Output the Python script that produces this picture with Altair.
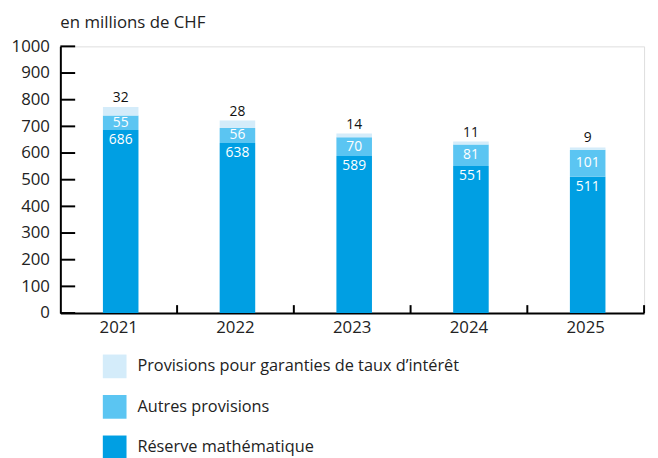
import altair as alt
import pandas as pd

years = ["2021", "2022", "2023", "2024", "2025"]
reserve = [686, 638, 589, 551, 511]
autres = [55, 56, 70, 81, 101]
garanties = [32, 28, 14, 11, 9]

series_names = [
    "Provisions pour garanties de taux d’intérêt",
    "Autres provisions",
    "Réserve mathématique",
]
colors = ["#d4ecfa", "#5bc5f2", "#009fe3"]
y_ticks = [0, 100, 200, 300, 400, 500, 600, 700, 800, 900, 1000]
title_text = "en millions de CHF"

rows = []
lab = []
for i, yr in enumerate(years):
    b1 = reserve[i]
    b2 = b1 + autres[i]
    b3 = b2 + garanties[i]
    rows.append(dict(year=yr, series=series_names[2], y0=0, y1=b1))
    rows.append(dict(year=yr, series=series_names[1], y0=b1, y1=b2))
    rows.append(dict(year=yr, series=series_names[0], y0=b2, y1=b3))
    lab.append(dict(year=yr, r=b1, rt=str(reserve[i]), a=(b1 + b2) / 2,
                    at=str(autres[i]), g=b3, gt=str(garanties[i])))
df = pd.DataFrame(rows)
dl = pd.DataFrame(lab)

TXT = "#222222"
FONT = "Open Sans"

x_scale = alt.Scale(paddingInner=0, paddingOuter=0)
x_axis = alt.Axis(title=None, labelAngle=0, ticks=False, labelPadding=7,
                  labelFontSize=17, labelColor=TXT, domainColor="black",
                  domainWidth=2, grid=False)
y_scale = alt.Scale(domain=[0, 1000], nice=False)
y_axis = alt.Axis(title=None, values=y_ticks, ticks=False, grid=False,
                  labelOverlap=False, format="d",
                  labelPadding=11, labelFontSize=17, labelColor=TXT,
                  domainColor="black", domainWidth=2)


def X(**kw):
    return alt.X("year:N", scale=x_scale, axis=x_axis, **kw)


def Y(field):
    return alt.Y(field, scale=y_scale, axis=y_axis)


bars = alt.Chart(df).mark_bar(width=36, xOffset=2).encode(
    x=X(),
    y=Y("y1:Q"),
    y2="y0:Q",
    color=alt.Color(
        "series:N",
        scale=alt.Scale(domain=series_names, range=colors),
        legend=alt.Legend(title=None, orient="none", legendX=43, legendY=312,
                          direction="vertical", symbolType="square",
                          symbolSize=576, symbolStrokeWidth=0, symbolOpacity=1,
                          labelFontSize=16.5, labelOffset=11, rowPadding=17,
                          padding=0, labelColor=TXT, labelLimit=600),
    ),
)

t_res = alt.Chart(dl).mark_text(color="white", fontSize=14, baseline="middle", dy=10, dx=2).encode(
    x=X(), y=Y("r:Q"), text="rt:N")
t_aut = alt.Chart(dl).mark_text(color="white", fontSize=14, baseline="middle", dx=2).encode(
    x=X(), y=Y("a:Q"), text="at:N")
t_gar = alt.Chart(dl).mark_text(color="#111111", fontSize=14, baseline="bottom", dy=-2, dx=2).encode(
    x=X(), y=Y("g:Q"), text="gt:N")

yt = alt.Chart(pd.DataFrame({"v": y_ticks})).mark_rule(color="black", strokeWidth=2).encode(
    y=Y("v:Q"), x=alt.value(0), x2=alt.value(15))
xt = alt.Chart(pd.DataFrame({"year": years})).mark_rule(color="black", strokeWidth=2).encode(
    x=X(bandPosition=1), y=alt.value(270), y2=alt.value(262))

title = alt.Chart(pd.DataFrame({"t": [title_text]})).mark_text(
    align="left", baseline="middle", fontSize=17, color=TXT).encode(
    x=alt.value(0), y=alt.value(-24), text="t:N")

chart = alt.layer(bars, t_res, t_aut, t_gar, yt, xt, title).properties(
    width=591, height=270,
    autosize=alt.AutoSizeParams(type="none"),
    padding={"left": 53, "top": 36, "right": 6, "bottom": 150},
).configure_view(stroke=None).configure(font=FONT)

chart.save("out.html", embed_options={"renderer": "svg", "actions": False})
